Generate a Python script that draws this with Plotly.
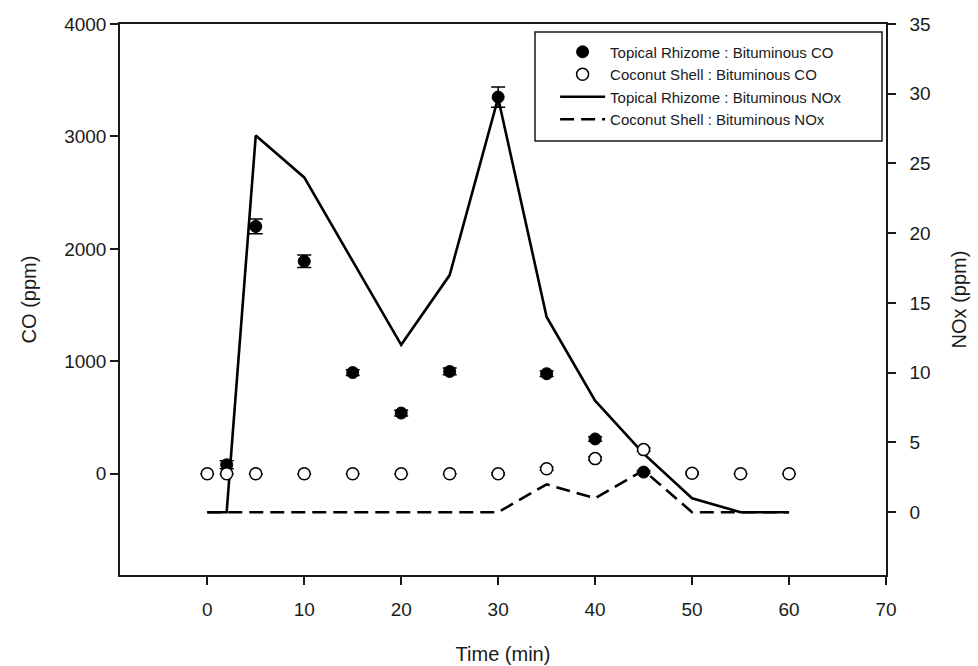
import plotly.graph_objects as go

# Sampling times (min)
time_all = [0, 2, 5, 10, 15, 20, 25, 30, 35, 40, 45, 50, 55, 60]

# CO emissions (ppm) with standard errors
rhizome_co_time = [2, 5, 10, 15, 20, 25, 30, 35, 40, 45]
rhizome_co = [80, 2200, 1890, 900, 540, 910, 3350, 890, 310, 15]
rhizome_co_err = [35, 65, 55, 25, 25, 30, 90, 25, 20, 10]

coconut_co_time = [0, 2, 5, 10, 15, 20, 25, 30, 35, 40, 45, 50, 55, 60]
coconut_co = [0, 0, 0, 0, 0, 0, 0, 0, 45, 135, 215, 5, 0, 0]
coconut_co_err = [0, 0, 0, 0, 0, 0, 0, 10, 15, 15, 15, 10, 0, 0]

# NOx emissions (ppm)
rhizome_nox = [0, 0, 27, 24, 18, 12, 17, 29.7, 14, 8, 4.2, 1, 0, 0]
coconut_nox = [0, 0, 0, 0, 0, 0, 0, 0, 2, 1, 3, 0, 0, 0]

x_ticks = [0, 10, 20, 30, 40, 50, 60, 70]

FONT = "Liberation Sans, Arial, sans-serif"
INK = "#1a1a1a"

fig = go.Figure()

# NOx lines live on the primary (right-hand) axis so the CO markers sit above them
fig.add_trace(go.Scatter(
    x=time_all, y=rhizome_nox, mode="lines", yaxis="y",
    name="Topical Rhizome : Bituminous NOx", legendrank=3,
    line=dict(color="black", width=2.6),
))
fig.add_trace(go.Scatter(
    x=time_all, y=coconut_nox, mode="lines", yaxis="y",
    name="Coconut Shell : Bituminous NOx", legendrank=4,
    line=dict(color="black", width=2.6, dash="14px,7px"),
))

# CO points on the overlaid left-hand axis
fig.add_trace(go.Scatter(
    x=rhizome_co_time, y=rhizome_co, mode="markers", yaxis="y2",
    name="Topical Rhizome : Bituminous CO", legendrank=1,
    marker=dict(symbol="circle", size=12, color="black",
                line=dict(color="black", width=1)),
    error_y=dict(type="data", array=rhizome_co_err, color="black",
                 thickness=1.5, width=7),
))
fig.add_trace(go.Scatter(
    x=coconut_co_time, y=coconut_co, mode="markers", yaxis="y2",
    name="Coconut Shell : Bituminous CO", legendrank=2,
    marker=dict(symbol="circle", size=12, color="white",
                line=dict(color="black", width=1.5)),
    error_y=dict(type="data", array=coconut_co_err, color="black",
                 thickness=1.2, width=7),
))

axis_common = dict(
    showgrid=False, zeroline=False, showline=True, linecolor=INK,
    linewidth=1.5, ticks="outside", ticklen=8, tickwidth=1.5,
    tickcolor=INK, tickfont=dict(family=FONT, size=19, color=INK),
    automargin=False,
)
title_font = dict(family=FONT, size=20, color=INK)

fig.update_layout(
    width=978, height=666,
    margin=dict(l=120, r=92, t=24, b=91),
    plot_bgcolor="white", paper_bgcolor="white",
    font=dict(family=FONT, color=INK),
    xaxis=dict(
        **axis_common, range=[-9, 70], tickvals=x_ticks, mirror=True,
        ticklabelstandoff=8,
        title=dict(text="Time (min)", font=title_font, standoff=28),
    ),
    yaxis=dict(
        **axis_common, side="right", range=[-4.5, 35], tick0=0, dtick=5,
        ticklabelstandoff=10,
        title=dict(text="NOx (ppm)", font=title_font, standoff=22),
    ),
    yaxis2=dict(
        **axis_common, side="left", overlaying="y", range=[-900, 4000],
        tick0=0, dtick=1000,
        title=dict(text="CO (ppm)", font=title_font, standoff=22),
    ),
    showlegend=True,
    legend=dict(
        x=0.568, y=0.979, xanchor="left", yanchor="top",
        bgcolor="rgba(0,0,0,0)", borderwidth=0,
        font=dict(family=FONT, size=15, color=INK),
        itemwidth=45, traceorder="normal",
    ),
    shapes=[dict(
        type="rect", xref="paper", yref="paper",
        x0=0.5418, x1=0.9948, y0=0.7877, y1=0.9855,
        line=dict(color=INK, width=1.5), fillcolor="rgba(0,0,0,0)",
    )],
)

fig.write_html("out.html")
